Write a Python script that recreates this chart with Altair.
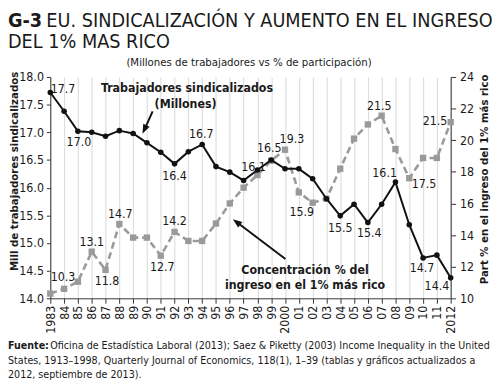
import altair as alt
import pandas as pd

# ---------------- data ----------------
years = list(range(1983, 2013))
union_millions = [17.72, 17.38, 17.02, 17.00, 16.93, 17.03, 16.98, 16.81, 16.64, 16.43,
                  16.65, 16.78, 16.38, 16.28, 16.13, 16.32, 16.50, 16.34, 16.34, 16.16,
                  15.80, 15.49, 15.70, 15.37, 15.70, 16.10, 15.33, 14.73, 14.78, 14.37]
top1_share = [10.3, 10.6, 11.05, 12.95, 11.8, 14.7, 13.84, 13.84, 12.7, 14.2,
              13.63, 13.63, 14.73, 16.0, 17.0, 17.8, 18.7, 19.4, 16.7, 16.05,
              16.3, 18.2, 20.1, 21.0, 21.55, 19.44, 17.6, 18.88, 18.88, 21.14]

union_label_years = [1983, 1985, 1992, 1994, 1997, 1999, 2004, 2006, 2008, 2010, 2012]
union_label_texts = ["17.7", "17.0", "16.4", "16.7", "16.1", "16.5", "15.5", "15.4", "16.1", "14.7", "14.4"]
share_label_years = [1983, 1986, 1987, 1988, 1991, 1992, 2000, 2002, 2007, 2009, 2012]
share_label_texts = ["10.3", "13.1", "11.8", "14.7", "12.7", "14.2", "19.3", "15.9", "21.5", "17.5", "21.5"]

left_ticks = [14.0, 14.5, 15.0, 15.5, 16.0, 16.5, 17.0, 17.5, 18.0]
right_ticks = [10, 12, 14, 16, 18, 20, 22, 24]

title_tag = "G-3"
title_line1 = "EU. SINDICALIZACIÓN Y AUMENTO EN EL INGRESO"
title_line2 = "DEL 1% MAS RICO"
subtitle = "(Millones de trabajadores vs % de participación)"
left_title = "Mill de trabajadores sindicalizados"
right_title = "Part % en el ingreso del 1% más rico"
union_note = ["Trabajadores sindicalizados", "(Millones)"]
share_note = ["Concentración % del", "ingreso en el 1% más rico"]
source_bold = "Fuente:"
source_lines = [
    "Oficina de Estadística Laboral (2013); Saez & Piketty (2003) Income Inequality in the United",
    "States, 1913–1998, Quarterly Journal of Economics, 118(1), 1–39 (tablas y gráficos actualizados a",
    "2012, septiembre de 2013).",
]

# ---------------- placement / style (not data) ----------------
union_label_offsets = [(13, -3), (1, 11), (0, 12), (-1, -11), (10, -14), (-2, -12.5),
                       (0, 12), (1.5, 10.5), (-11, -9), (-1, 10), (-14, 8.5)]
share_label_offsets = [(13, -17), (0, -10), (1.5, 11.5), (1, -10), (1.5, 11.5), (0, -11.5),
                       (7, -10.5), (-11, 10), (-2.5, -9.5), (15, 6.5), (-16, -1)]

FONT = "Liberation Sans Narrow, DejaVu Sans Condensed, Roboto Condensed, Arial Narrow, sans-serif"
BLACK = "#111111"
GRAY = "#9a9a9a"
TXT = "#1a1a1a"

df = pd.DataFrame({"year": years, "union": union_millions, "share": top1_share})

x_enc = alt.X(
    "year:Q",
    scale=alt.Scale(domain=[1983, 2012], nice=False, zero=False),
    axis=alt.Axis(
        values=years,
        labelExpr="(datum.value == 1983 || datum.value == 2000 || datum.value == 2012) ? toString(datum.value) : slice(toString(datum.value), 2)",
        labelAngle=270, labelAlign="right", labelBaseline="middle",
        labelOverlap=False, labelFlush=False,
        grid=True, gridColor="#dedede", gridWidth=1.2,
        title=None, tickSize=5, tickColor="#333", domainColor="#333",
        labelPadding=2, labelFont=FONT, labelFontSize=12.5, labelColor=TXT,
    ),
)

y_left = alt.Y(
    "union:Q",
    scale=alt.Scale(domain=[14, 18], nice=False, zero=False),
    axis=alt.Axis(
        orient="left", values=left_ticks, format=".1f", title=None, grid=False,
        tickSize=4, tickColor="#333", domainColor="#333", labelPadding=3,
        labelFont=FONT, labelFontSize=12.5, labelColor=TXT,
    ),
)

y_right = alt.Y(
    "share:Q",
    scale=alt.Scale(domain=[10, 24], nice=False, zero=False),
    axis=alt.Axis(
        orient="right", values=right_ticks, format="d", title=None, grid=False,
        tickSize=5, tickColor="#333", domainColor="#333", labelPadding=4,
        labelFont=FONT, labelFontSize=12.5, labelColor=TXT,
    ),
)

# ---------- share (gray, dashed) ----------
share_line = alt.Chart(df).mark_line(color=GRAY, strokeWidth=2.6, strokeDash=[7, 4]).encode(x=x_enc, y=y_right)
share_pts = alt.Chart(df).mark_point(shape="square", filled=True, size=42, color=GRAY, opacity=1).encode(x=x_enc, y=y_right)
share_layers = [share_line, share_pts]
for yr, txt, (dx, dy) in zip(share_label_years, share_label_texts, share_label_offsets):
    d = pd.DataFrame({"year": [yr], "share": [top1_share[years.index(yr)]], "t": [txt]})
    share_layers.append(
        alt.Chart(d).mark_text(font=FONT, fontSize=12.5, color=TXT, dx=dx, dy=dy, baseline="middle", align="center")
        .encode(x=x_enc, y=y_right, text="t:N")
    )
share_group = alt.layer(*share_layers)

# ---------- union (black) ----------
union_line = alt.Chart(df).mark_line(color=BLACK, strokeWidth=2).encode(x=x_enc, y=y_left)
union_pts = alt.Chart(df).mark_point(shape="circle", filled=True, size=32, color=BLACK, opacity=1).encode(x=x_enc, y=y_left)
union_layers = [union_line, union_pts]
for yr, txt, (dx, dy) in zip(union_label_years, union_label_texts, union_label_offsets):
    d = pd.DataFrame({"year": [yr], "union": [union_millions[years.index(yr)]], "t": [txt]})
    union_layers.append(
        alt.Chart(d).mark_text(font=FONT, fontSize=12.5, color=TXT, dx=dx, dy=dy, baseline="middle", align="center")
        .encode(x=x_enc, y=y_left, text="t:N")
    )

# annotations placed in data coordinates (year, union scale)
notes = pd.DataFrame({
    "year": [1992.9, 1992.8, 2001.45, 2001.45],
    "union": [17.72, 17.445, 14.44, 14.165],
    "t": [union_note[0], union_note[1], share_note[0], share_note[1]],
})
union_layers.append(
    alt.Chart(notes).mark_text(font=FONT, fontSize=12.5, fontWeight="bold", color=TXT, align="center", baseline="alphabetic")
    .encode(x=x_enc, y=y_left, text="t:N")
)
arrows = pd.DataFrame({
    "year": [1990.41, 2000.03], "union": [17.378, 14.711],
    "year2": [1989.82, 1996.49], "union2": [17.05, 15.38],
})
union_layers.append(
    alt.Chart(arrows).mark_rule(color=BLACK, strokeWidth=2)
    .encode(x=x_enc, y=y_left, x2="year2:Q", y2="union2:Q")
)
ARROW = "M0,-1L0.75,1L-0.75,1Z"
head1 = pd.DataFrame({"year": [1989.82], "union": [17.05]})
head2 = pd.DataFrame({"year": [1996.49], "union": [15.38]})
union_layers.append(alt.Chart(head1).mark_point(shape=ARROW, filled=True, size=90, color=BLACK, opacity=1, angle=205).encode(x=x_enc, y=y_left))
union_layers.append(alt.Chart(head2).mark_point(shape=ARROW, filled=True, size=90, color=BLACK, opacity=1, angle=307).encode(x=x_enc, y=y_left))

# texts outside the plot area (pixel positions relative to plot origin)
one = pd.DataFrame({"k": [0]})
def txt_mark(text, x, y, size, bold=False, align="left", angle=0, baseline="alphabetic"):
    kw = dict(font=FONT, fontSize=size, color=TXT, align=align, baseline=baseline, text=text)
    if bold:
        kw["fontWeight"] = "bold"
    if angle:
        kw["angle"] = angle
    return alt.Chart(one).mark_text(**kw).encode(x=alt.value(x), y=alt.value(y))

union_layers += [
    txt_mark(title_tag, -43, -51, 20, bold=True),
    txt_mark(title_line1, -4, -51, 20),
    txt_mark(title_line2, -43, -29, 20),
    txt_mark(subtitle, 202, -11, 11.5, align="center"),
    txt_mark(left_title, -36, 96, 11.5, bold=True, align="center", angle=270, baseline="middle"),
    txt_mark(right_title, 442, 104, 11.5, bold=True, align="center", angle=270, baseline="middle"),
    txt_mark(source_bold, -43, 276.5, 10.8, bold=True),
    txt_mark(source_lines[0], 0, 276.5, 10.8),
    txt_mark(source_lines[1], -43, 291.5, 10.8),
    txt_mark(source_lines[2], -43, 306, 10.8),
]
union_group = alt.layer(*union_layers)

chart = (
    alt.layer(share_group, union_group)
    .resolve_scale(y="independent")
    .properties(
        width=407, height=225,
        padding={"left": 43, "top": 67, "right": 42, "bottom": 85},
        autosize=alt.AutoSizeParams(type="none"),
        background="white",
    )
    .configure_view(stroke=None)
)

chart.save("out.html", embed_options={"renderer": "svg", "actions": False})
